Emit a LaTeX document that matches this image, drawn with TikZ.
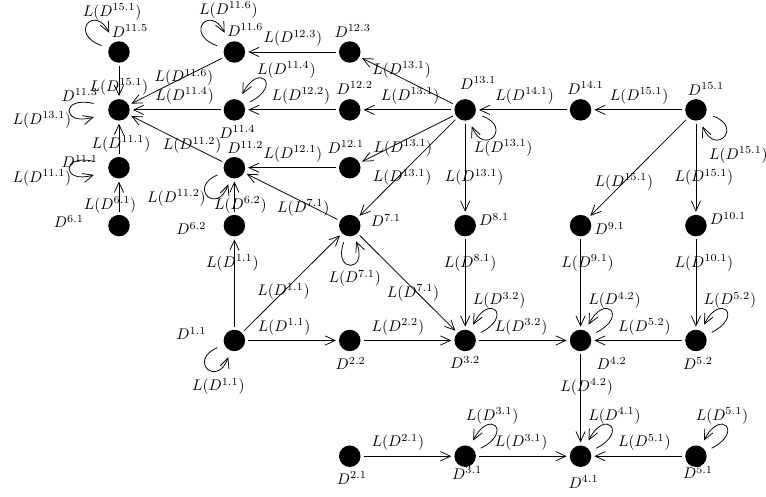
\documentclass[tikz,border=0pt]{standalone}
\usepackage{tikz}
\usetikzlibrary{positioning, arrows.meta}

\tikzset{
  dot/.style={circle,fill=black,inner sep=0pt,minimum size=4.9mm,outer sep=2pt},
  nm/.style={inner sep=1pt},
  lab/.style={inner sep=1pt},
  lpur/.style={out=27,in=63,distance=26pt,shorten <=2.5pt,shorten >=2.5pt},
  lpul/.style={out=160,in=117,distance=26pt,shorten <=3pt,shorten >=5pt},
  lpl/.style={out=166,in=196,distance=30pt,shorten <=8pt,shorten >=8pt},
  lpll/.style={out=203,in=250,distance=24pt,shorten <=3pt,shorten >=2.5pt},
  lplr/.style={out=-20,in=-68,distance=24pt,shorten <=3pt,shorten >=2.5pt},
  lpb/.style={out=-110,in=-68,distance=24pt,shorten <=2.5pt,shorten >=2pt}
}

\begin{document}
\begin{tikzpicture}[->,>={Straight Barb[length=6.5pt,width=6pt]},line width=0.5pt,
  node distance=1.32cm and 2.632cm, on grid]
  \useasboundingbox (-2.714,1.186) rectangle (14.758,-10.128);

  % dots
  \node[dot] (D115) {};
  \node[dot, right=of D115] (D116) {};
  \node[dot, right=of D116] (D123) {};
  \node[dot, below=of D115] (D113) {};
  \node[dot, right=of D113] (D114) {};
  \node[dot, right=of D114] (D122) {};
  \node[dot, right=of D122] (D131) {};
  \node[dot, right=of D131] (D141) {};
  \node[dot, right=of D141] (D151) {};
  \node[dot, below=of D113] (D111) {};
  \node[dot, right=of D111] (D112) {};
  \node[dot, right=of D112] (D121) {};
  \node[dot, below=of D111] (D61) {};
  \node[dot, right=of D61] (D62) {};
  \node[dot, right=of D62] (D71) {};
  \node[dot, right=of D71] (D81) {};
  \node[dot, right=of D81] (D91) {};
  \node[dot, right=of D91] (D101) {};
  \node[dot, below=2.62cm of D62] (D11) {};
  \node[dot, right=of D11] (D22) {};
  \node[dot, right=of D22] (D32) {};
  \node[dot, right=of D32] (D42) {};
  \node[dot, right=of D42] (D52) {};
  \node[dot, below=2.64cm of D22] (D21) {};
  \node[dot, right=of D21] (D31) {};
  \node[dot, right=of D31] (D41) {};
  \node[dot, right=of D41] (D51) {};

  % names
  \node[nm,xshift=7.1pt,yshift=13.6pt] (n115) at (D115) {$D^{11.5}$};
  \node[nm,xshift=7.1pt,yshift=14.3pt] (n116) at (D116) {$D^{11.6}$};
  \node[nm,xshift=1.9pt,yshift=13.6pt] (n123) at (D123) {$D^{12.3}$};
  \node[nm,xshift=-25.5pt,yshift=9.7pt] (n113) at (D113) {$D^{11.3}$};
  \node[nm,xshift=1.9pt,yshift=-14.3pt] (n114) at (D114) {$D^{11.4}$};
  \node[nm,xshift=3.2pt,yshift=14.3pt] (n122) at (D122) {$D^{12.2}$};
  \node[nm,xshift=8.4pt,yshift=17.5pt] (n131) at (D131) {$D^{13.1}$};
  \node[nm,xshift=3.2pt,yshift=14.3pt] (n141) at (D141) {$D^{14.1}$};
  \node[nm,xshift=6.5pt,yshift=13.6pt] (n151) at (D151) {$D^{15.1}$};
  \node[nm,xshift=-25.5pt,yshift=3.9pt] (n111) at (D111) {$D^{11.1}$};
  \node[nm,xshift=7.1pt,yshift=13pt] (n112) at (D112) {$D^{11.2}$};
  \node[nm,xshift=-2.6pt,yshift=13.6pt] (n121) at (D121) {$D^{12.1}$};
  \node[nm,xshift=-32.5pt,yshift=2.6pt] (n61) at (D61) {$D^{6.1}$};
  \node[nm,xshift=-27.9pt,yshift=-1.9pt] (n62) at (D62) {$D^{6.2}$};
  \node[nm,xshift=23.4pt,yshift=3.2pt] (n71) at (D71) {$D^{7.1}$};
  \node[nm,xshift=18.8pt,yshift=3.9pt] (n81) at (D81) {$D^{8.1}$};
  \node[nm,xshift=18.8pt,yshift=-1.9pt] (n91) at (D91) {$D^{9.1}$};
  \node[nm,xshift=20.8pt,yshift=4.5pt] (n101) at (D101) {$D^{10.1}$};
  \node[nm,xshift=-27.9pt,yshift=4.5pt] (n11) at (D11) {$D^{1.1}$};
  \node[nm,xshift=0.6pt,yshift=-14.9pt] (n22) at (D22) {$D^{2.2}$};
  \node[nm,xshift=0pt,yshift=-14.3pt] (n32) at (D32) {$D^{3.2}$};
  \node[nm,xshift=20.1pt,yshift=-14.9pt] (n42) at (D42) {$D^{4.2}$};
  \node[nm,xshift=1.3pt,yshift=-14.9pt] (n52) at (D52) {$D^{5.2}$};
  \node[nm,xshift=1.3pt,yshift=-14.3pt] (n21) at (D21) {$D^{2.1}$};
  \node[nm,xshift=1.3pt,yshift=-11pt] (n31) at (D31) {$D^{3.1}$};
  \node[nm,xshift=1.9pt,yshift=-16.9pt] (n41) at (D41) {$D^{4.1}$};
  \node[nm,xshift=1.3pt,yshift=-10.5pt] (n51) at (D51) {$D^{5.1}$};

  % edges
  \path (D115) edge node[pos=0.69] {$L(D^{15.1})$} (D113)
        (D116) edge node[pos=0.42] {$L(D^{11.6})$} (D113)
        (D114) edge node[pos=0.41,above] {$L(D^{11.4})$} (D113)
        (D111) edge node[pos=0.32,xshift=1.3pt] {$L(D^{11.1})$} (D113)
        (D112) edge node[pos=0.33,yshift=0.8pt] {$L(D^{11.2})$} (D113)
        (D61) edge node[pos=0.22,xshift=-5.8pt] {$L(D^{6.1})$} (D111)
        (D123) edge node[pos=0.49,above] {$L(D^{12.3})$} (D116)
        (D122) edge node[pos=0.40,above] {$L(D^{12.2})$} (D114)
        (D121) edge node[pos=0.49,above] {$L(D^{12.1})$} (D112)
        (D62) edge node[pos=0.22,xshift=3.9pt] {$L(D^{6.2})$} (D112)
        (D71) edge node[pos=0.35,xshift=-1.6pt,yshift=-2.9pt] {$L(D^{7.1})$} (D112)
        (D131) edge node[pos=0.60,xshift=2.1pt,yshift=4.3pt] {$L(D^{13.1})$} (D123)
        (D131) edge node[pos=0.47,above] {$L(D^{13.1})$} (D122)
        (D131) edge node[pos=0.58,xshift=1.8pt,yshift=-3.6pt] {$L(D^{13.1})$} (D121)
        (D131) edge node[pos=0.58,xshift=1.5pt,yshift=-1.4pt] {$L(D^{13.1})$} (D71)
        (D131) edge node[pos=0.61,xshift=5.8pt] {$L(D^{13.1})$} (D81)
        (D141) edge node[pos=0.48,above] {$L(D^{14.1})$} (D131)
        (D151) edge node[pos=0.49,above] {$L(D^{15.1})$} (D141)
        (D151) edge node[pos=0.65] {$L(D^{15.1})$} (D91)
        (D151) edge node[pos=0.61,xshift=5.2pt] {$L(D^{15.1})$} (D101)
        (D11) edge node[pos=0.73,xshift=-1.3pt] {$L(D^{1.1})$} (D62)
        (D11) edge node[pos=0.41] {$L(D^{1.1})$} (D71)
        (D11) edge node[pos=0.41,above] {$L(D^{1.1})$} (D22)
        (D71) edge node[pos=0.58,xshift=-1.4pt,yshift=-1.5pt] {$L(D^{7.1})$} (D32)
        (D22) edge node[pos=0.39,above] {$L(D^{2.2})$} (D32)
        (D81) edge node[pos=0.27,xshift=3.2pt] {$L(D^{8.1})$} (D32)
        (D32) edge node[pos=0.48,above] {$L(D^{3.2})$} (D42)
        (D91) edge node[pos=0.27,xshift=4.5pt] {$L(D^{9.1})$} (D42)
        (D52) edge node[pos=0.43,above] {$L(D^{5.2})$} (D42)
        (D101) edge node[pos=0.27,xshift=5.2pt] {$L(D^{10.1})$} (D52)
        (D42) edge node[pos=0.37,xshift=3.9pt] {$L(D^{4.2})$} (D41)
        (D21) edge node[pos=0.39,above] {$L(D^{2.1})$} (D31)
        (D31) edge node[pos=0.48,above] {$L(D^{3.1})$} (D41)
        (D51) edge node[pos=0.43,above] {$L(D^{5.1})$} (D41);

  % loops
  \path (D115) edge[lpul] (D115)
        (D116) edge[lpul] (D116)
        (D113) edge[lpl] (D113)
        (D111) edge[lpl] (D111)
        (D114) edge[lpur] (D114)
        (D112) edge[lpll] (D112)
        (D131) edge[lplr] (D131)
        (D151) edge[lplr] (D151)
        (D71) edge[lpb] (D71)
        (D11) edge[lpll] (D11)
        (D32) edge[lpur] (D32)
        (D42) edge[lpur] (D42)
        (D52) edge[lpur] (D52)
        (D31) edge[lpur] (D31)
        (D41) edge[lpur] (D41)
        (D51) edge[lpur] (D51);
  \node[lab,xshift=-4.5pt,yshift=26pt] (t115) at (D115) {$L(D^{15.1})$};
  \node[lab,xshift=-3.9pt,yshift=27.3pt] (t116) at (D116) {$L(D^{11.6})$};
  \node[lab,xshift=-50pt,yshift=-6.5pt] (t113) at (D113) {$L(D^{13.1})$};
  \node[lab,xshift=-50pt,yshift=-6.5pt] (t111) at (D111) {$L(D^{11.1})$};
  \node[lab,xshift=33.7pt,yshift=26pt] (t114) at (D114) {$L(D^{11.4})$};
  \node[lab,xshift=-37.6pt,yshift=-19.5pt] (t112) at (D112) {$L(D^{11.2})$};
  \node[lab,xshift=24.7pt,yshift=-24.7pt] (t131) at (D131) {$L(D^{13.1})$};
  \node[lab,xshift=27.6pt,yshift=-29.2pt] (t151) at (D151) {$L(D^{15.1})$};
  \node[lab,xshift=3.2pt,yshift=-34.4pt] (t71) at (D71) {$L(D^{7.1})$};
  \node[lab,xshift=-10.4pt,yshift=-29.9pt] (t11) at (D11) {$L(D^{1.1})$};
  \node[lab,xshift=22pt,yshift=26pt] (t32) at (D32) {$L(D^{3.2})$};
  \node[lab,xshift=22pt,yshift=26pt] (t42) at (D42) {$L(D^{4.2})$};
  \node[lab,xshift=22pt,yshift=26pt] (t52) at (D52) {$L(D^{5.2})$};
  \node[lab,xshift=17.5pt,yshift=26pt] (t31) at (D31) {$L(D^{3.1})$};
  \node[lab,xshift=22pt,yshift=26pt] (t41) at (D41) {$L(D^{4.1})$};
  \node[lab,xshift=16.9pt,yshift=26pt] (t51) at (D51) {$L(D^{5.1})$};
\end{tikzpicture}
\end{document}
